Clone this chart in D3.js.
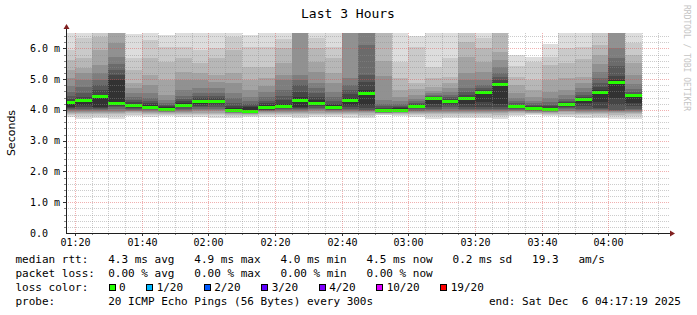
<!DOCTYPE html>
<html>
<head>
<meta charset="utf-8">
<script src="https://cdn.jsdelivr.net/npm/d3@7"></script>
<style>
  body { margin: 0; background: #fff; }
  text { font-family: "DejaVu Sans Mono", monospace; white-space: pre; }
</style>
</head>
<body>
<script>
// SmokePing style graph, last 3 hours

// 5 minute bins, labelled by the end of each bin
var binEnds = ["01:20","01:25","01:30","01:35","01:40","01:45","01:50","01:55","02:00","02:05",
               "02:10","02:15","02:20","02:25","02:30","02:35","02:40","02:45","02:50","02:55",
               "03:00","03:05","03:10","03:15","03:20","03:25","03:30","03:35","03:40","03:45",
               "03:50","03:55","04:00","04:05","04:10"];

// median rtt per bin (ms)
var medians = [4.23,4.32,4.44,4.21,4.13,4.09,4.03,4.16,4.26,4.29,
               3.98,3.96,4.07,4.10,4.32,4.22,4.08,4.30,4.52,3.97,
               3.99,4.12,4.37,4.26,4.37,4.56,4.82,4.12,4.05,4.03,
               4.17,4.35,4.56,4.90,4.46];

// sorted pings 1..10 per bin (ms)
var lowPings = [
  [3.76,3.82,3.87,3.90,3.93,3.96,3.99,4.02,4.05,4.09],
  [3.72,3.80,3.86,3.90,3.94,3.97,4.00,4.04,4.10,4.16],
  [3.74,3.81,3.86,3.90,3.94,3.97,4.00,4.03,4.07,4.10],
  [3.72,3.80,3.86,3.90,3.94,3.98,4.03,4.08,4.14,4.20],
  [3.80,3.85,3.89,3.92,3.95,3.98,4.00,4.03,4.06,4.09],
  [3.78,3.84,3.88,3.91,3.94,3.97,3.99,4.02,4.04,4.06],
  [3.80,3.85,3.88,3.90,3.92,3.94,3.96,3.98,4.00,4.01],
  [3.78,3.84,3.88,3.91,3.94,3.97,4.00,4.04,4.08,4.12],
  [3.76,3.82,3.87,3.91,3.95,3.99,4.03,4.08,4.14,4.20],
  [3.74,3.82,3.87,3.91,3.95,3.99,4.03,4.08,4.15,4.22],
  [3.74,3.80,3.84,3.87,3.89,3.91,3.93,3.94,3.95,3.96],
  [3.76,3.81,3.84,3.86,3.88,3.90,3.91,3.92,3.93,3.94],
  [3.78,3.83,3.87,3.90,3.93,3.95,3.97,3.99,4.01,4.04],
  [3.76,3.82,3.87,3.90,3.93,3.96,3.99,4.02,4.05,4.07],
  [3.74,3.81,3.86,3.90,3.93,3.96,3.99,4.02,4.06,4.10],
  [3.76,3.82,3.87,3.91,3.95,3.99,4.03,4.07,4.12,4.17],
  [3.78,3.84,3.88,3.91,3.94,3.97,3.99,4.01,4.03,4.05],
  [3.74,3.82,3.87,3.91,3.94,3.97,4.00,4.04,4.10,4.16],
  [3.73,3.80,3.85,3.89,3.92,3.95,3.97,3.99,4.06,4.16],
  [3.82,3.85,3.87,3.89,3.90,3.91,3.92,3.93,3.94,3.95],
  [3.80,3.84,3.87,3.89,3.91,3.92,3.93,3.95,3.96,3.97],
  [3.76,3.82,3.86,3.89,3.92,3.95,3.98,4.02,4.05,4.09],
  [3.72,3.80,3.86,3.90,3.93,3.96,3.99,4.03,4.10,4.19],
  [3.74,3.81,3.86,3.90,3.94,3.98,4.03,4.09,4.15,4.21],
  [3.74,3.81,3.86,3.90,3.93,3.96,3.99,4.03,4.09,4.19],
  [3.74,3.81,3.86,3.90,3.93,3.96,3.99,4.02,4.08,4.27],
  [3.72,3.80,3.85,3.89,3.92,3.95,3.99,4.03,4.10,4.20],
  [3.80,3.85,3.89,3.92,3.95,3.98,4.00,4.03,4.06,4.09],
  [3.82,3.86,3.89,3.91,3.93,3.95,3.97,3.99,4.01,4.03],
  [3.80,3.85,3.88,3.90,3.92,3.94,3.96,3.98,4.00,4.01],
  [3.78,3.84,3.88,3.92,3.95,3.98,4.02,4.06,4.10,4.14],
  [3.74,3.82,3.87,3.91,3.94,3.97,4.00,4.04,4.12,4.23],
  [3.74,3.81,3.86,3.90,3.93,3.96,3.99,4.02,4.06,4.27],
  [3.72,3.80,3.85,3.89,3.92,3.95,3.97,3.99,4.16,4.38],
  [3.72,3.80,3.86,3.90,3.94,3.97,4.00,4.04,4.12,4.21]
];

// sorted pings 11..20 per bin (ms), values over the top are clipped
var highPings = [
  [4.29,4.35,4.45,4.58,4.77,5.03,5.29,5.62,5.94,6.60],
  [4.35,4.42,4.55,4.74,4.97,5.19,5.36,5.68,6.33,6.60],
  [4.48,4.64,4.81,4.97,5.19,5.45,5.94,6.36,6.60,6.60],
  [4.97,5.13,5.29,5.50,5.71,6.17,6.60,6.60,6.60,6.60],
  [4.19,4.25,4.32,4.42,4.55,4.71,4.87,5.29,5.68,6.46],
  [4.16,4.22,4.29,4.38,4.55,4.81,5.13,5.68,6.27,6.60],
  [4.09,4.12,4.16,4.22,4.32,4.48,4.97,5.55,6.04,6.43],
  [4.22,4.29,4.35,4.45,4.64,4.97,5.23,5.68,6.04,6.60],
  [4.32,4.38,4.45,4.55,4.71,4.97,5.19,5.52,5.94,6.60],
  [4.33,4.38,4.45,4.55,4.71,4.90,5.13,5.68,6.00,6.60],
  [4.06,4.12,4.22,4.38,4.55,4.87,5.19,5.94,6.36,6.60],
  [4.09,4.14,4.19,4.29,4.42,4.64,4.97,5.39,6.04,6.43],
  [4.16,4.22,4.29,4.42,4.58,4.77,5.03,5.39,6.04,6.60],
  [4.19,4.32,4.45,4.64,4.97,5.13,5.52,6.00,6.30,6.60],
  [4.42,4.58,4.81,4.97,5.13,6.60,6.60,6.60,6.60,6.60],
  [4.32,4.42,4.55,4.71,4.87,5.23,5.55,6.00,6.33,6.60],
  [4.16,4.20,4.29,4.42,4.58,4.87,5.19,5.68,6.04,6.50],
  [4.38,4.51,4.64,4.81,5.03,6.60,6.60,6.60,6.60,6.60],
  [4.64,4.90,5.13,6.10,6.60,6.60,6.60,6.60,6.60,6.60],
  [4.03,4.07,4.12,4.19,4.32,5.10,5.58,6.60,6.60,6.60],
  [4.06,4.09,4.12,4.19,4.29,4.42,4.64,5.03,5.55,6.60],
  [4.16,4.19,4.22,4.29,4.35,4.48,4.68,4.87,6.04,6.40],
  [4.40,4.42,4.45,4.48,4.55,4.61,4.74,5.03,5.39,6.60],
  [4.30,4.35,4.42,4.48,4.58,4.71,4.87,5.06,5.68,6.60],
  [4.42,4.48,4.58,4.71,4.97,5.19,5.71,6.20,6.60,6.60],
  [4.60,4.64,4.71,4.81,4.97,5.23,5.55,6.00,6.33,6.60],
  [4.87,4.97,5.06,5.19,5.39,5.62,5.88,6.60,6.60,6.60],
  [4.14,4.17,4.22,4.29,4.38,4.55,4.81,5.06,5.42,5.78],
  [4.09,4.12,4.16,4.21,4.29,4.42,4.64,4.97,5.55,5.71],
  [4.07,4.12,4.17,4.25,4.38,4.58,4.97,5.45,5.71,6.14],
  [4.20,4.25,4.30,4.37,4.48,4.64,5.03,5.52,6.00,6.60],
  [4.37,4.42,4.48,4.58,4.71,4.87,5.06,5.65,6.04,6.60],
  [4.64,4.74,4.87,5.03,5.23,5.49,5.78,6.10,6.50,6.60],
  [4.97,5.10,5.42,5.68,6.00,6.60,6.60,6.60,6.60,6.60],
  [4.47,4.51,4.58,4.68,4.84,5.13,5.52,5.78,6.17,6.60]
];

// legend texts
var rttStats = ["4.3 ms avg", "4.9 ms max", "4.0 ms min", "4.5 ms now", "0.2 ms sd", "19.3"];
var lossStats = ["0.00 % avg", "0.00 % max", "0.00 % min", "0.00 % now"];
var lossLevels = ["0", "1/20", "2/20", "3/20", "4/20", "10/20", "19/20"];
var lossColors = ["#26ff00", "#00b8ff", "#0059ff", "#5e00ff", "#7e00ff", "#dd00ff", "#ff0000"];
var probeText = "20 ICMP Echo Pings (56 Bytes) every 300s";
var endText = "end: Sat Dec  6 04:17:19 2025";

window.onload = function(){

    var w = 697, h = 315;
    var left = 66, right = 666, top = 33, bottom = 233;
    var yMax = 6.5;

    var parseHMS = d3.utcParse("%H:%M:%S"), parseHM = d3.utcParse("%H:%M");
    var tStart = parseHMS("01:17:19"), tEnd = parseHMS("04:17:19");

    var x = d3.scaleUtc().domain([tStart, tEnd]).range([left, right]);
    var y = d3.scaleLinear().domain([0, yMax]).range([bottom, top]);

    var svg = d3.select("body")
      .append("svg")
      .attr("width", w)
      .attr("height", h)
      .style("display", "block")
      .style("background", "#fff");

    svg.append("clipPath").attr("id", "plot")
      .append("rect")
      .attr("x", left).attr("y", top)
      .attr("width", right - left).attr("height", bottom - top);

    // smoke: pair i spans ping i .. ping 21-i, inner pairs darker
    var smoke = svg.append("g")
      .attr("clip-path", "url(#plot)")
      .attr("shape-rendering", "crispEdges");

    binEnds.forEach(function(label, b){
        var tEndBin = parseHM(label);
        var x0 = Math.max(x(d3.utcMinute.offset(tEndBin, -5)), left);
        var x1 = x(tEndBin);
        for (var i = 1; i <= 10; i++) {
            var lo = lowPings[b][i - 1];
            var hi = highPings[b][10 - i];
            var c = Math.floor(190 / 10 * (10 - i)) + 50;
            smoke.append("rect")
              .attr("x", x0)
              .attr("width", x1 - x0)
              .attr("y", y(hi))
              .attr("height", y(lo) - y(hi))
              .style("fill", d3.rgb(c, c, c));
        }
        smoke.append("rect")
          .attr("x", x0)
          .attr("width", x1 - x0)
          .attr("y", y(medians[b]) - 1.5)
          .attr("height", 3)
          .style("fill", lossColors[0]);
    });

    // grid on top of the smoke
    var grid = svg.append("g").attr("shape-rendering", "crispEdges");
    var ySteps = d3.range(1, 33).map(function(k){ return k / 5; });
    ySteps.forEach(function(v, k){
        var major = (k + 1) % 5 === 0;
        var yy = Math.round(y(v)) + 0.5;
        grid.append("line")
          .attr("x1", left).attr("x2", right + 3)
          .attr("y1", yy).attr("y2", yy)
          .style("stroke", major ? "rgba(222,79,79,0.45)" : "rgba(143,143,143,0.45)")
          .style("stroke-dasharray", "1,1");
        grid.append("line")
          .attr("x1", left - (major ? 3 : 2)).attr("x2", left)
          .attr("y1", yy).attr("y2", yy)
          .style("stroke", major ? "#333" : "#888");
    });

    var minorTimes = d3.utcMinute.every(5).range(tStart, tEnd);
    minorTimes.forEach(function(t){
        var major = t.getUTCMinutes() % 20 === 0;
        var xx = Math.round(x(t)) + 0.5;
        grid.append("line")
          .attr("x1", xx).attr("x2", xx)
          .attr("y1", top).attr("y2", bottom)
          .style("stroke", major ? "rgba(222,79,79,0.45)" : "rgba(143,143,143,0.45)")
          .style("stroke-dasharray", "1,1");
        grid.append("line")
          .attr("x1", xx).attr("x2", xx)
          .attr("y1", bottom).attr("y2", bottom + (major ? 3 : 2))
          .style("stroke", major ? "#333" : "#888");
    });

    // axes
    var axes = svg.append("g").attr("shape-rendering", "crispEdges");
    axes.append("line")
      .attr("x1", left + 0.5).attr("x2", left + 0.5)
      .attr("y1", bottom + 1).attr("y2", top - 5)
      .style("stroke", "#1f1f1f");
    axes.append("line")
      .attr("x1", left).attr("x2", right + 5)
      .attr("y1", bottom + 0.5).attr("y2", bottom + 0.5)
      .style("stroke", "#1f1f1f");

    svg.append("path")
      .attr("d", "M" + (left - 2.5) + "," + (top - 4) + "L" + (left + 0.5) + "," + (top - 9) +
                 "L" + (left + 3.5) + "," + (top - 4) + "Z")
      .style("fill", "#801f1f");
    svg.append("path")
      .attr("d", "M" + (right + 4) + "," + (bottom - 2.5) + "L" + (right + 9) + "," + (bottom + 0.5) +
                 "L" + (right + 4) + "," + (bottom + 3.5) + "Z")
      .style("fill", "#801f1f");

    // tick labels
    d3.range(0, 7).forEach(function(v){
        svg.append("text")
          .attr("x", 30)
          .attr("y", y(v) + 3.5)
          .style("font-size", "10px")
          .text(v === 0 ? "0.0" : v.toFixed(1) + " m");
    });

    var fmt = d3.utcFormat("%H:%M");
    d3.utcMinute.every(20).range(tStart, tEnd).forEach(function(t){
        svg.append("text")
          .attr("x", Math.round(x(t)) + 0.5)
          .attr("y", 245.5)
          .attr("text-anchor", "middle")
          .style("font-size", "10px")
          .text(fmt(t));
    });

    // title, axis title, watermark
    svg.append("text")
      .attr("x", 348).attr("y", 18)
      .attr("text-anchor", "middle")
      .style("font-size", "13px")
      .text("Last 3 Hours");

    svg.append("text")
      .attr("transform", "translate(15," + ((top + bottom) / 2) + ") rotate(-90)")
      .attr("text-anchor", "middle")
      .style("font-family", "'DejaVu Sans', sans-serif")
      .style("font-size", "11px")
      .text("Seconds");

    svg.append("text")
      .attr("transform", "translate(684,5) rotate(90)")
      .style("font-size", "8px")
      .style("fill", "#c4c4c4")
      .text("RRDTOOL / TOBI OETIKER");

    // legend
    var lx = 15.5, fs = "11px";
    svg.append("text").attr("x", lx).attr("y", 263).style("font-size", fs)
      .text("median rtt:   " + rttStats.join("   ") + "   am/s");
    svg.append("text").attr("x", lx).attr("y", 277).style("font-size", fs)
      .text("packet loss:  " + lossStats.join("   "));
    svg.append("text").attr("x", lx).attr("y", 291).style("font-size", fs)
      .text("loss color:");

    var bx = 108.5;
    lossLevels.forEach(function(lbl, k){
        svg.append("rect")
          .attr("x", bx + 0.5).attr("y", 284)
          .attr("width", 6).attr("height", 6)
          .style("fill", lossColors[k])
          .style("stroke", "#000")
          .attr("shape-rendering", "crispEdges");
        var t = svg.append("text")
          .attr("x", bx + 10.5).attr("y", 291)
          .style("font-size", fs)
          .text(lbl);
        bx = bx + 10.5 + t.node().getComputedTextLength() + 20.5;
    });

    svg.append("text").attr("x", lx).attr("y", 305).style("font-size", fs)
      .text("probe:        " + probeText);
    svg.append("text").attr("x", 681).attr("y", 305)
      .attr("text-anchor", "end")
      .style("font-size", fs)
      .text(endText);
};
</script>
</body>
</html>
